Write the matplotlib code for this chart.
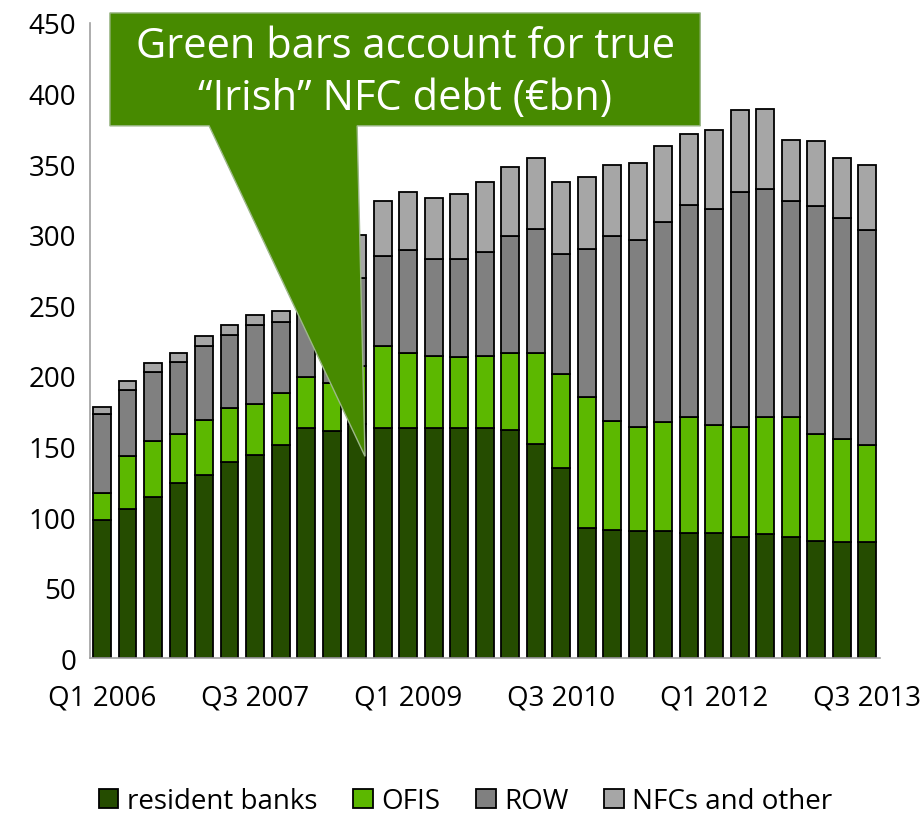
import numpy as np
import matplotlib.pyplot as plt
from matplotlib.patches import Polygon

plt.rcParams['font.family'] = ['Open Sans', 'DejaVu Sans']

# quarters Q1 2006 .. Q3 2013
quarters = []
for yr in range(2006, 2014):
    for q in range(1, 5):
        quarters.append("Q%d %d" % (q, yr))
quarters = quarters[:31]

# stacked components, EUR bn
banks = [98, 106, 114, 124, 130, 139, 144, 151, 163, 161, 166, 163, 163, 163, 163, 163,
         162, 152, 135, 92, 91, 90, 90, 89, 89, 86, 88, 86, 83, 82, 82]
ofis = [19, 37, 40, 35, 39, 38, 36, 37, 36, 34, 41, 58, 53, 51, 50, 51,
        54, 64, 66, 93, 77, 74, 77, 82, 76, 78, 83, 85, 76, 73, 69]
row = [56, 47, 49, 51, 52, 52, 56, 50, 50, 58, 62, 64, 73, 69, 70, 74,
       83, 88, 85, 105, 131, 132, 142, 150, 153, 166, 161, 153, 161, 157, 152]
nfc = [5, 6, 6, 6, 7, 7, 7, 8, 9, 17, 31, 39, 41, 43, 46, 49,
       49, 50, 51, 51, 50, 55, 54, 50, 56, 58, 57, 43, 46, 42, 46]

series = [("resident banks", banks, "#254c00"),
          ("OFIS", ofis, "#5cb800"),
          ("ROW", row, "#808080"),
          ("NFCs and other", nfc, "#a6a6a6")]

tick_every = 6

fig = plt.figure(figsize=(9.22, 8.2), dpi=100)
ax = fig.add_axes([0.0976, 0.196, 0.857, 0.775])

x = np.arange(len(quarters))
bottom = np.zeros(len(quarters))
for name, vals, col in series:
    ax.bar(x, vals, 0.7, bottom=bottom, color=col, edgecolor="black",
           linewidth=1.3, label=name, zorder=2)
    bottom += np.array(vals)

ax.set_xlim(-0.47, 30.5)
ax.set_ylim(0, 450)
ax.set_yticks(np.arange(0, 451, 50))
ax.set_xticks(x[::tick_every])
ax.set_xticklabels(quarters[::tick_every])
ax.tick_params(axis="y", length=0, pad=10, labelsize=20)
ax.tick_params(axis="x", length=0, pad=18, labelsize=20)

for s in ["top", "right"]:
    ax.spines[s].set_visible(False)
for s in ["left", "bottom"]:
    ax.spines[s].set_color("#a0a0a0")
    ax.spines[s].set_linewidth(1.2)

# callout box with pointer
callout = [(0.31, 457), (23.45, 457), (23.45, 377), (10.0, 377),
           (10.31, 143), (4.2, 377), (0.31, 377)]
ax.add_patch(Polygon(callout, closed=True, facecolor="#478a00",
                     edgecolor="#9db88a", linewidth=1.0, zorder=5, clip_on=False))
ax.text(11.88, 415, "Green bars account for true\n\u201cIrish\u201d NFC debt (\u20acbn)",
        ha="center", va="center", color="white", fontsize=30,
        linespacing=1.33, zorder=6, clip_on=False)

fig.legend(loc="lower center", bbox_to_anchor=(0.505, -0.026), ncol=4,
           frameon=False, fontsize=20, handlelength=0.7, handleheight=0.7,
           handletextpad=0.3, columnspacing=1.3)

fig.savefig("out.png", dpi=100)
